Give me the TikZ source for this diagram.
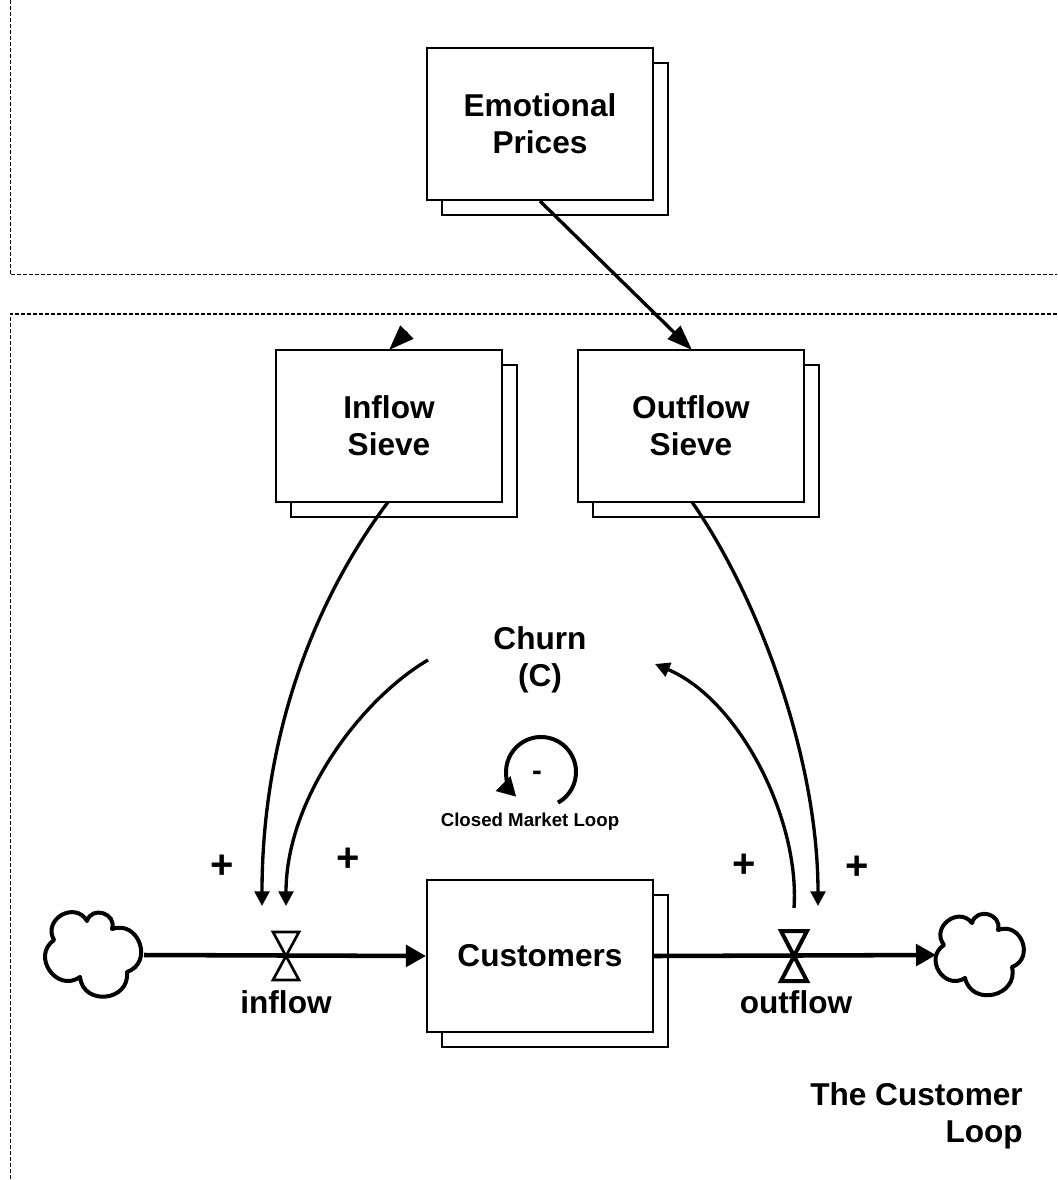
\documentclass[tikz,border=0pt]{standalone}
\usepackage{fontspec}
\setmainfont{Liberation Sans}
\usetikzlibrary{arrows.meta}
\begin{document}
\begin{tikzpicture}[x=0.75pt,y=-0.75pt,
  txt/.style={font=\bfseries\fontsize{23.7}{27.75}\selectfont, align=center, inner sep=0pt},
  stockbox/.style={draw, line width=1.6pt, fill=white, minimum width=169.5pt, minimum height=114pt, inner sep=0pt, txt},
  shadowbox/.style={draw, line width=1.6pt, fill=white, minimum width=169.5pt, minimum height=114pt, inner sep=0pt},
  sep/.style={line width=0.75pt, dash pattern=on 3pt off 1.5pt},
  conn/.style={line width=2.5pt, -{Triangle[length=11pt,width=11pt]}},
  bigtip/.style={-{Triangle[length=19pt,width=13.5pt]}},
  pipe/.style={line width=3.4pt, -{Triangle[length=15pt,width=16pt]}},
  valve/.style={fill=white, line join=miter},
  cloud/.style={line width=3pt, fill=white, line join=round},
  lobe/.style={bend left=90, looseness=1.6},
  plus/.style={font=\bfseries\fontsize{30}{36}\selectfont, inner sep=0pt},
  small/.style={font=\bfseries\fontsize{14}{17}\selectfont, inner sep=0pt}
]
\useasboundingbox (0,0) rectangle (1057,1180);

% separators
\draw[sep] (10,0) -- (10,275) -- (1057,275);
\draw[sep] (1057,314) -- (10,314) -- (10,1180);

% boxes
\node[shadowbox] (eps) at (555,139) {};
\node[stockbox] (ep) at (540,124) {Emotional\\Prices};
\node[shadowbox] (iss) at (404,441) {};
\node[stockbox] (is) at (389,426) {Inflow\\Sieve};
\node[shadowbox] (oss) at (706,441) {};
\node[stockbox] (os) at (691,426) {Outflow\\Sieve};
\node[shadowbox] (cus) at (555,971) {};
\node[stockbox] (cust) at (540,956) {Customers};

% clouds
\draw[cloud] (54,940) to[lobe] (87,921) to[lobe] (112,929) to[lobe] (127,972)
  to[lobe] (80,977) to[lobe] (54,940) -- cycle;
\draw[cloud] (944,945) to[lobe] (972,923) to[lobe] (998,930) to[lobe] (1012,967)
  to[lobe] (965,978) to[lobe] (944,945) -- cycle;

% pipes
\coordinate (vin) at (286,956);
\coordinate (vout) at (794,956);
\coordinate (clr) at (144,955);
\coordinate (crl) at (936,955);
\draw[pipe] (clr) -- (cust.west);
\draw[pipe] (cust.east) -- (crl);
\draw[valve, line width=2pt] (vin) +(-13,-24) -- +(13,-24) -- +(-13,24) -- +(13,24) -- cycle;
\draw[valve, line width=3pt] (vout) +(-13,-25) -- +(13,-25) -- +(-13,25) -- +(13,25) -- cycle;
\node[txt] (lin) at (286,1002) {inflow};
\node[txt] (lout) at (796,1002) {outflow};

% churn
\node[txt] (churn) at (540,660) {Churn\\(C)};

% connectors
\draw[conn, bigtip] (ep.south) -- (692,350);
\coordinate (stray) at (407,332);
\draw[conn, bigtip] (stray) -- (389,350);
\draw[conn] (388,502) .. controls (300,620) and (262,760) .. (262,906);
\draw[conn] (428,660) .. controls (360,700) and (286,800) .. (286,906);
\draw[conn] (692,502) .. controls (760,600) and (818,760) .. (818,906);
\draw[conn] (794,908) .. controls (800,820) and (740,700) .. (655,664);

% plus signs
\node[plus] (p1) at (222,867) {+};
\node[plus] (p2) at (348,860) {+};
\node[plus] (p3) at (744,866) {+};
\node[plus] (p4) at (857,868) {+};

% loop
\coordinate (lc) at (541,772);
\draw[line width=3pt, -{Triangle[length=14pt,width=15pt]}] (lc) ++(61:35) arc[start angle=61, end angle=-225, radius=35];
\node[font=\bfseries\fontsize{22}{26}\selectfont, inner sep=0pt] (minus) at (537,776) {-};
\node[small] (cml) at (530,822) {Closed Market Loop};

% title
\node[txt, align=right, anchor=north east] (title) at (1023,1082) {The Customer\\Loop};
\end{tikzpicture}
\end{document}
